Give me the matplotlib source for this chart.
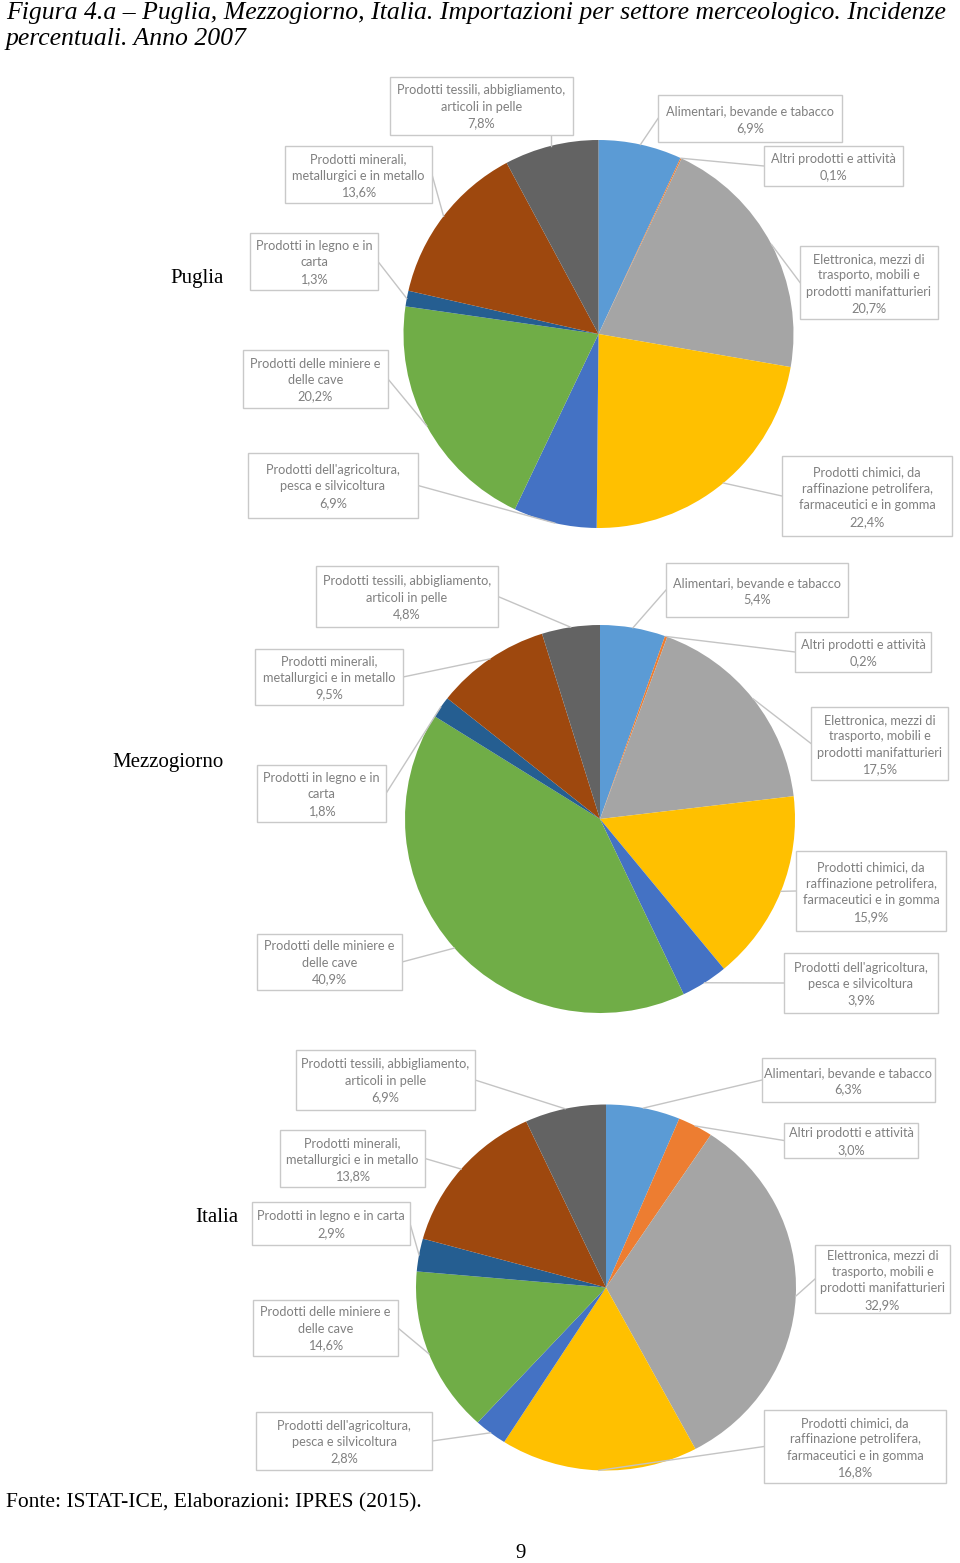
import numpy as np
import matplotlib
matplotlib.use("Agg")
import matplotlib.pyplot as plt

# ---------------- data ----------------
categories = [
    "Alimentari, bevande e tabacco",
    "Altri prodotti e attività",
    "Elettronica, mezzi di trasporto, mobili e prodotti manifatturieri",
    "Prodotti chimici, da raffinazione petrolifera, farmaceutici e in gomma",
    "Prodotti dell'agricoltura, pesca e silvicoltura",
    "Prodotti delle miniere e delle cave",
    "Prodotti in legno e in carta",
    "Prodotti minerali, metallurgici e in metallo",
    "Prodotti tessili, abbigliamento, articoli in pelle",
]
puglia = [6.9, 0.1, 20.7, 22.4, 6.9, 20.2, 1.3, 13.6, 7.8]
mezzogiorno = [5.4, 0.2, 17.5, 15.9, 3.9, 40.9, 1.8, 9.5, 4.8]
italia = [6.3, 3.0, 32.9, 16.8, 2.8, 14.6, 2.9, 13.8, 6.9]
regions = ["Puglia", "Mezzogiorno", "Italia"]

colors = ["#5B9BD5", "#ED7D31", "#A5A5A5", "#FFC000", "#4472C4",
          "#70AD47", "#255E91", "#9E480E", "#636363"]

# label wrapping (lines without the value)
wrap_default = [
    ["Alimentari, bevande e tabacco"],
    ["Altri prodotti e attività"],
    ["Elettronica, mezzi di", "trasporto, mobili e", "prodotti manifatturieri"],
    ["Prodotti chimici, da", "raffinazione petrolifera,", "farmaceutici e in gomma"],
    ["Prodotti dell'agricoltura,", "pesca e silvicoltura"],
    ["Prodotti delle miniere e", "delle cave"],
    ["Prodotti in legno e in", "carta"],
    ["Prodotti minerali,", "metallurgici e in metallo"],
    ["Prodotti tessili, abbigliamento,", "articoli in pelle"],
]

W, H = 960, 1563
fig = plt.figure(figsize=(W / 100, H / 100), dpi=100)
fig.patch.set_facecolor("white")

label_font = ["Lato", "DejaVu Sans"]
serif = ["Liberation Serif", "DejaVu Serif"]

# overlay axes in pixel coordinates
ov = fig.add_axes([0, 0, 1, 1], zorder=5)
ov.set_xlim(0, W)
ov.set_ylim(H, 0)
ov.axis("off")
ov.patch.set_alpha(0)

# pie geometry (pixels): cx, cy, rx, ry
geoms = [(598.5, 334, 195, 194), (600, 819, 195, 194), (606, 1287.5, 190, 183)]

# label boxes per pie: (x0, y0, x1, y1) in pixels, index aligned with categories
boxes = [
    [(658, 95, 842, 142), (764, 146, 903, 186), (800, 246, 938, 319), (782, 456, 952, 536),
     (248, 453, 418, 518), (243, 350, 388, 408), (250, 233, 378, 290), (285, 146, 432, 203),
     (390, 77, 573, 135)],
    [(666, 563, 848, 617), (795, 632, 931, 672), (811, 707, 948, 780), (796, 851, 946, 931),
     (784, 953, 938, 1013), (257, 934, 402, 990), (257, 765, 386, 822), (255, 649, 403, 705),
     (316, 566, 498, 627)],
    [(762, 1058, 935, 1102), (784, 1123, 918, 1158), (815, 1245, 950, 1313), (764, 1410, 946, 1483),
     (256, 1412, 432, 1470), (253, 1300, 398, 1356), (252, 1202, 410, 1245), (280, 1130, 425, 1187),
     (296, 1050, 475, 1110)],
]
region_label_pos = [(224, 278), (224, 762), (238, 1217)]

datasets = [puglia, mezzogiorno, italia]

for k, vals in enumerate(datasets):
    cx, cy, rx, ry = geoms[k]
    ax = fig.add_axes([(cx - rx) / W, 1 - (cy + ry) / H, 2 * rx / W, 2 * ry / H])
    ax.pie(vals, colors=colors, startangle=90, counterclock=False,
           wedgeprops=dict(linewidth=0))
    ax.set_aspect("auto")
    ax.set_xlim(-1, 1)
    ax.set_ylim(-1, 1)
    ax.axis("off")

    total = float(sum(vals))
    cum = np.cumsum([0] + list(vals))
    for i, v in enumerate(vals):
        mid = (cum[i] + cum[i + 1]) / 2.0
        theta = np.deg2rad(90 - mid / total * 360)
        px = cx + rx * np.cos(theta)
        py = cy - ry * np.sin(theta)
        x0, y0, x1, y1 = boxes[k][i]
        lines = wrap_default[i]
        if k == 2 and i == 6:
            lines = ["Prodotti in legno e in carta"]
        txt = "\n".join(lines + [f"{v:.1f}%".replace(".", ",")])
        ov.add_patch(plt.Rectangle((x0, y0), x1 - x0, y1 - y0, facecolor="white",
                                   edgecolor="#c9c9c9", linewidth=1.0, zorder=3))
        ov.text((x0 + x1) / 2, (y0 + y1) / 2 + 1, txt, ha="center", va="center",
                fontsize=9.2, color="#808080", family=label_font, linespacing=1.45, zorder=4)
        # leader line from nearest box edge point
        if x0 < px < x1:
            bx = px
            by = y1 if py > y1 else y0
        else:
            bx = x1 if px > x1 else x0
            by = (y0 + y1) / 2
        ov.plot([bx, px], [by, py], color="#c4c4c4", linewidth=1.0, zorder=2)

    ov.text(region_label_pos[k][0], region_label_pos[k][1], regions[k], ha="right", va="center",
            fontsize=15, family=serif, color="black")

# title and footer
ov.text(6, 2, "Figura 4.a – Puglia, Mezzogiorno, Italia. Importazioni per settore merceologico. Incidenze\npercentuali. Anno 2007",
        ha="left", va="top", fontsize=18.5, style="italic", family=serif, color="black", linespacing=1.25)
ov.text(6, 1503, "Fonte: ISTAT-ICE, Elaborazioni: IPRES (2015).", ha="left", va="center",
        fontsize=15.5, family=serif, color="black")
ov.text(521, 1553, "9", ha="center", va="center", fontsize=15, family=serif, color="black")

fig.savefig("out.png", dpi=100, facecolor="white")
